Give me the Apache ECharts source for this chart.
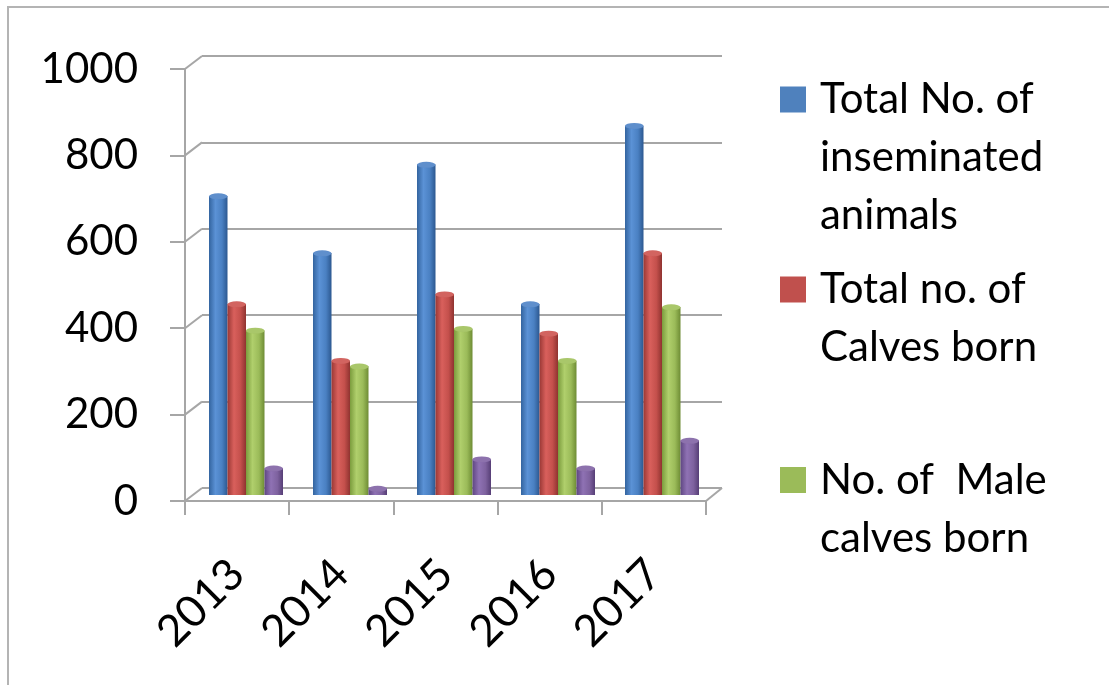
<!DOCTYPE html>
<html>
<head>
<meta charset="utf-8">
<script src="https://cdn.jsdelivr.net/npm/echarts@6/dist/echarts.min.js"></script>
<style>
  html, body { margin: 0; padding: 0; background: #fff; }
  #main { width: 1109px; height: 685px; }
</style>
</head>
<body>
<div id="main"></div>
<script>
// data
const years = ['2013', '2014', '2015', '2016', '2017'];
const inseminated = [692, 560, 765, 442, 855];
const calvesBorn = [442, 311, 465, 374, 560];
const maleCalves = [381, 298, 385, 311, 435];
const femaleCalves = [62, 15, 83, 62, 126];
const yTicks = [0, 200, 400, 600, 800, 1000];

const seriesNames = [
  'Total No. of inseminated animals',
  'Total no. of Calves born',
  'No. of  Male calves born',
  'No. of Female calves born'
];
const legendLines = [
  ['Total No. of', 'inseminated', 'animals'],
  ['Total no. of', 'Calves born'],
  ['No. of  Male', 'calves born']
];

const lineColor = '#a6a6a6';
const flatColors = ['#4F81BD', '#C0504D', '#9BBB59', '#8064A2'];
const shades = [
  ['#33649f', '#5b92d6', '#4a80c2', '#2c5890'],
  ['#9a3835', '#d9605c', '#c4504c', '#8f3330'],
  ['#7b9c3d', '#b0cf6c', '#9bbb59', '#6e8c34'],
  ['#5f4682', '#8f72b4', '#7e629f', '#563e76']
];
const capColors = ['#5f8fcc', '#d26460', '#a9c76a', '#8d72ad'];
const capBorders = ['#2f5d95', '#923431', '#6f8d35', '#583f78'];
const allValues = [inseminated, calvesBorn, maleCalves, femaleCalves];

// layout of the fake 3D box
const frontGrid = { left: 185, top: 69, width: 521, height: 432 };
const backGrid = { left: 202, top: 56, width: 520, height: 432 };
const barGrid = { left: 194, top: 63, width: 520, height: 432 };

const chart = echarts.init(document.getElementById('main'));

const grad = (c) => new echarts.graphic.LinearGradient(0, 0, 1, 0, [
  { offset: 0, color: c[0] },
  { offset: 0.35, color: c[1] },
  { offset: 0.7, color: c[2] },
  { offset: 1, color: c[3] }
]);

const series = [];
allValues.forEach((vals, i) => {
  series.push({
    type: 'bar',
    name: seriesNames[i],
    xAxisIndex: 2,
    yAxisIndex: 2,
    data: vals,
    barWidth: 18.5,
    barGap: '0%',
    itemStyle: { color: grad(shades[i]) },
    z: 3,
    silent: true
  });
});
allValues.forEach((vals, i) => {
  series.push({
    type: 'pictorialBar',
    name: seriesNames[i] + ' cap',
    xAxisIndex: 2,
    yAxisIndex: 2,
    data: vals,
    symbol: 'circle',
    symbolSize: [18.5, 6],
    symbolPosition: 'end',
    symbolOffset: [0, '-50%'],
    barWidth: 18.5,
    barGap: '0%',
    itemStyle: { color: capColors[i], borderColor: capBorders[i], borderWidth: 1 },
    z: 4,
    silent: true
  });
});

// each legend entry is its own legend so the first text line sits beside the swatch
const legendCenters = [99.5, 289.5, 480];
const legendLH = 58;
const legends = legendLines.map((lines, i) => {
  const n = lines.length;
  const padded = new Array(n - 1).fill('').concat(lines);
  return {
    left: 780,
    top: legendCenters[i] - (2 * n - 1) * legendLH / 2,
    padding: 0,
    orient: 'vertical',
    icon: 'rect',
    itemWidth: 26,
    itemHeight: 26,
    selectedMode: false,
    data: [{ name: seriesNames[i], itemStyle: { color: flatColors[i] } }],
    formatter: () => padded.join('\n'),
    textStyle: {
      fontFamily: 'Lato',
      fontSize: 42,
      color: '#000',
      lineHeight: legendLH,
      padding: [0, 0, 0, 9]
    }
  };
});

const option = {
  animation: false,
  backgroundColor: '#fff',
  grid: [
    Object.assign({ outerBoundsMode: 'none' }, frontGrid),
    Object.assign({ outerBoundsMode: 'none' }, backGrid),
    Object.assign({ outerBoundsMode: 'none' }, barGrid)
  ],
  legend: legends,
  xAxis: [
    {
      gridIndex: 0,
      type: 'category',
      data: years,
      axisLine: { lineStyle: { color: lineColor, width: 2 } },
      axisTick: { show: true, length: 14, lineStyle: { color: lineColor, width: 2 } },
      axisLabel: { rotate: 45, margin: 66, fontFamily: 'Lato', fontSize: 44, color: '#000', interval: 0 },
      splitLine: { show: false }
    },
    { gridIndex: 1, type: 'category', data: years, show: false },
    { gridIndex: 2, type: 'category', data: years, show: false }
  ],
  yAxis: [
    {
      gridIndex: 0,
      type: 'value',
      min: yTicks[0],
      max: yTicks[yTicks.length - 1],
      interval: yTicks[1] - yTicks[0],
      axisLine: { show: true, lineStyle: { color: lineColor, width: 2 } },
      axisTick: { show: true, length: 15, lineStyle: { color: lineColor, width: 2 } },
      axisLabel: { margin: 47, fontFamily: 'Lato', fontSize: 42, color: '#000', formatter: (v) => String(v) },
      splitLine: { show: false }
    },
    {
      gridIndex: 1,
      type: 'value',
      min: yTicks[0],
      max: yTicks[yTicks.length - 1],
      interval: yTicks[1] - yTicks[0],
      axisLine: { show: false },
      axisTick: { show: false },
      axisLabel: { show: false },
      splitLine: { show: true, lineStyle: { color: lineColor, width: 2 } }
    },
    {
      gridIndex: 2,
      type: 'value',
      min: yTicks[0],
      max: yTicks[yTicks.length - 1],
      show: false
    }
  ],
  series: series
};

chart.setOption(option);

// slanted edges joining the front axis to the back wall, plus the page frame
const extras = [];
yTicks.forEach((v) => {
  const yf = chart.convertToPixel({ yAxisIndex: 0 }, v);
  const yb = chart.convertToPixel({ yAxisIndex: 1 }, v);
  extras.push({
    type: 'line',
    shape: { x1: frontGrid.left, y1: yf, x2: backGrid.left, y2: yb },
    style: { stroke: lineColor, lineWidth: 2 }
  });
});
const yf0 = chart.convertToPixel({ yAxisIndex: 0 }, yTicks[0]);
const yb0 = chart.convertToPixel({ yAxisIndex: 1 }, yTicks[0]);
extras.push({
  type: 'line',
  shape: {
    x1: frontGrid.left + frontGrid.width, y1: yf0,
    x2: backGrid.left + backGrid.width, y2: yb0
  },
  style: { stroke: lineColor, lineWidth: 2 }
});
extras.push({
  type: 'polyline',
  shape: { points: [[8, 685], [8, 7], [1109, 7]] },
  style: { stroke: '#b4b4b4', lineWidth: 2, fill: null }
});
chart.setOption({ graphic: extras });
</script>
</body>
</html>
